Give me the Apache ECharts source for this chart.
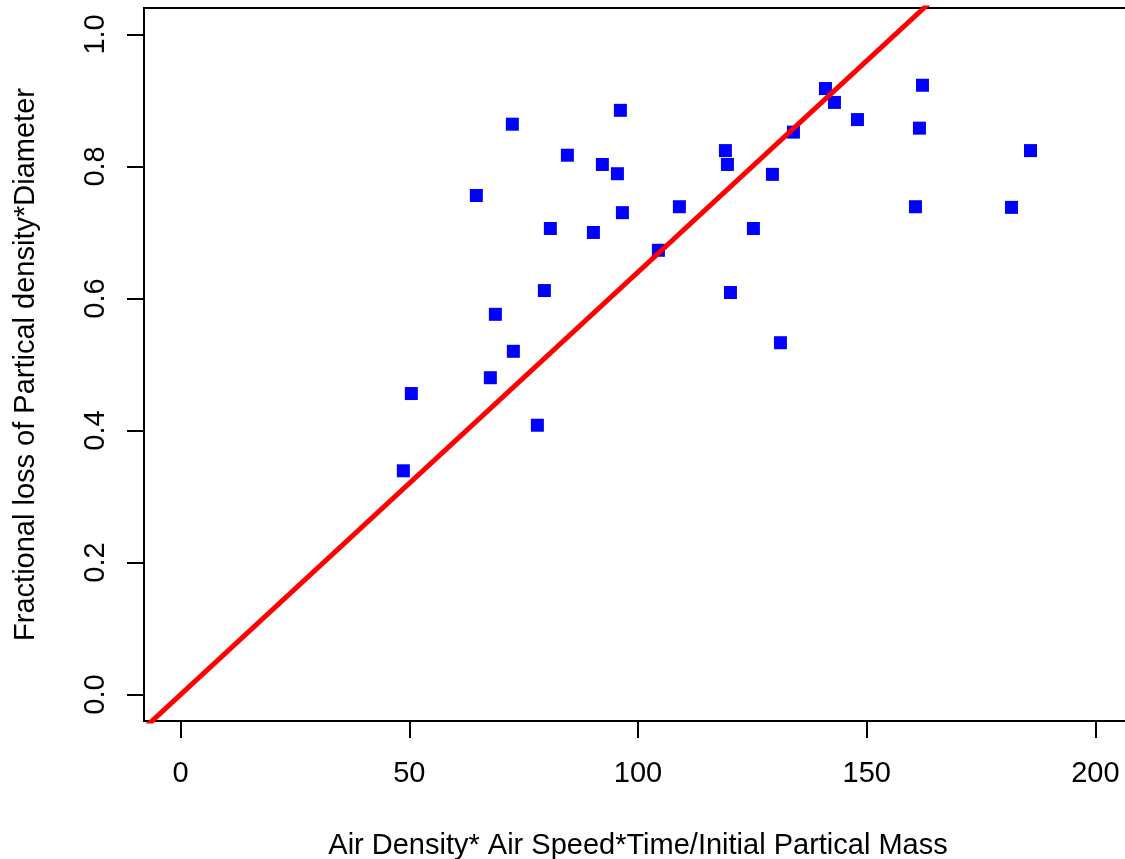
<!DOCTYPE html>
<html>
<head>
<meta charset="utf-8">
<script src="https://cdn.jsdelivr.net/npm/echarts@6/dist/echarts.min.js"></script>
<style>
  html, body { margin: 0; padding: 0; background: #fff; overflow: hidden; }
  #chart { width: 1125px; height: 859px; }
</style>
</head>
<body>
<div id="chart"></div>
<script>
// Data
const xValues = [48.7, 50.45, 64.66, 67.72, 68.82, 72.53, 72.75, 78.0, 79.53, 80.84, 84.56,
                 90.25, 92.21, 95.5, 96.15, 96.59, 104.46, 109.05, 119.11, 119.55, 120.21,
                 125.23, 129.39, 131.14, 133.98, 140.98, 142.95, 147.98, 160.66, 161.53,
                 162.19, 181.65, 185.81];
const yValues = [0.339, 0.456, 0.756, 0.480, 0.576, 0.864, 0.520, 0.408, 0.612, 0.706, 0.817,
                 0.700, 0.803, 0.789, 0.885, 0.730, 0.673, 0.739, 0.824, 0.803, 0.609,
                 0.706, 0.788, 0.533, 0.852, 0.918, 0.897, 0.871, 0.739, 0.858,
                 0.923, 0.738, 0.824];
// Fitted reference line (y = a + b*x)
const fitIntercept = 0.0;
const fitSlope = 0.0064;
const xTicks = [0, 50, 100, 150, 200];
const yTicks = [0, 0.2, 0.4, 0.6, 0.8, 1.0];
const xTitle = 'Air Density* Air Speed*Time/Initial Partical Mass';
const yTitle = 'Fractional loss of Partical density*Diameter';

const points = xValues.map((x, i) => [x, yValues[i]]);
const xLo = -8, xHi = 208;
const fitLine = [[xLo, fitIntercept + fitSlope * xLo], [xHi, fitIntercept + fitSlope * xHi]];

const FONT = "'Liberation Sans', Arial, Helvetica, sans-serif";
const FS = 29;

const chart = echarts.init(document.getElementById('chart'), null, { renderer: 'canvas' });
chart.setOption({
  animation: false,
  backgroundColor: '#ffffff',
  grid: {
    left: 144, top: 8, width: 988, height: 713,
    outerBoundsMode: 'none', containLabel: false,
    show: true, borderColor: '#000', borderWidth: 2, backgroundColor: 'transparent'
  },
  xAxis: {
    type: 'value', min: xLo, max: xHi,
    name: xTitle, nameLocation: 'middle', nameGap: 110,
    nameTextStyle: { fontFamily: FONT, fontSize: FS, color: '#000' },
    axisLine: { show: false, onZero: false },
    splitLine: { show: false },
    axisTick: { show: true, length: 17, inside: false, customValues: xTicks, lineStyle: { color: '#000', width: 2 } },
    axisLabel: { show: true, customValues: xTicks, margin: 38, fontFamily: FONT, fontSize: FS, color: '#000',
                 showMinLabel: true, showMaxLabel: true }
  },
  yAxis: {
    type: 'value', min: -0.04, max: 1.04,
    name: yTitle, nameLocation: 'middle', nameGap: 104, nameRotate: 90,
    nameTextStyle: { fontFamily: FONT, fontSize: FS, color: '#000' },
    axisLine: { show: false, onZero: false },
    splitLine: { show: false },
    axisTick: { show: true, length: 17, inside: false, customValues: yTicks, lineStyle: { color: '#000', width: 2 } },
    axisLabel: { show: true, customValues: yTicks, rotate: 90, margin: 34, fontFamily: FONT, fontSize: FS, color: '#000',
                 formatter: v => v.toFixed(1), showMinLabel: true, showMaxLabel: true }
  },
  series: [
    {
      type: 'scatter',
      data: points,
      symbol: 'rect',
      symbolSize: 13,
      itemStyle: { color: '#0000ff', opacity: 1 },
      z: 2
    },
    {
      type: 'line',
      data: fitLine,
      showSymbol: false,
      symbol: 'none',
      clip: true,
      lineStyle: { color: '#ff0000', width: 5 },
      z: 3
    }
  ]
});
</script>
</body>
</html>
